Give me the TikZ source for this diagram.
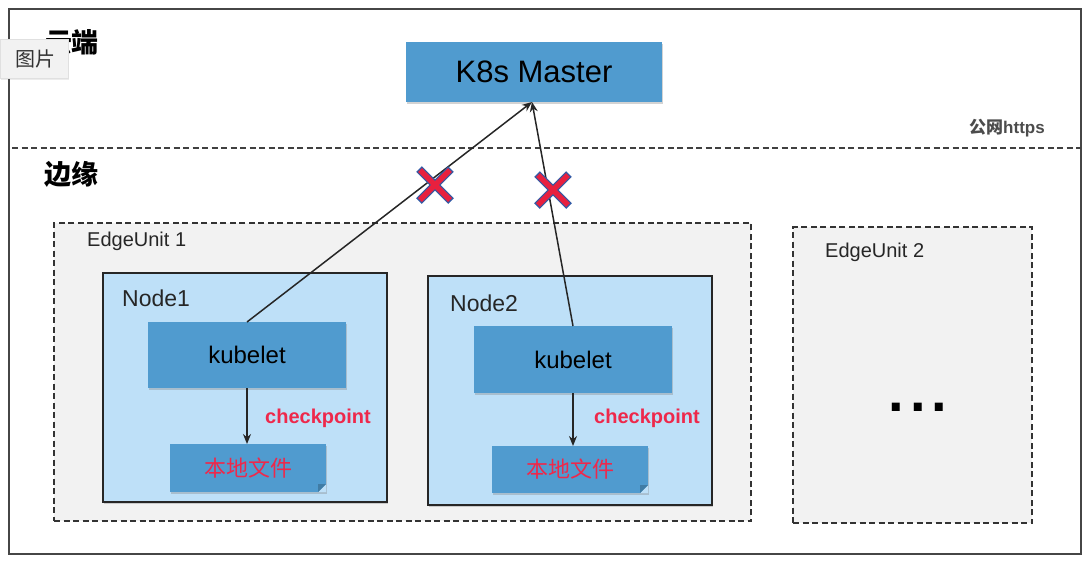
\documentclass[tikz,border=0pt]{standalone}
\usepackage{fontspec}
\setmainfont{Liberation Sans}
\newfontfamily\cjk{Noto Sans CJK SC}
\usetikzlibrary{arrows.meta,shadows}
\definecolor{kblue}{RGB}{80,155,207}
\definecolor{nodefill}{RGB}{190,224,248}
\definecolor{unitfill}{RGB}{242,242,242}
\definecolor{redtxt}{RGB}{238,40,75}
\definecolor{crossred}{RGB}{232,32,62}
\definecolor{crossblue}{RGB}{50,90,165}
\definecolor{frame}{RGB}{70,70,70}
\tikzset{
  fs/.style={font=\fontsize{#1}{#1}\selectfont},
  bluebox/.style={fill=kblue, inner sep=0pt, outer sep=0pt,
    drop shadow={shadow xshift=1pt, shadow yshift=-1.5pt, opacity=0.35}},
  nodebox/.style={fill=nodefill, draw=black!85, line width=1.3pt, inner sep=0pt, outer sep=0pt,
    drop shadow={shadow xshift=1pt, shadow yshift=-1.5pt, opacity=0.35}},
  unitbox/.style={fill=unitfill, draw=black!80, line width=1.2pt, dash pattern=on 6pt off 3.5pt, inner sep=0pt, outer sep=0pt},
  lbl/.style={anchor=west, inner sep=0pt, text=black!85},
  conn/.style={line width=1.5pt, black!85, -{Stealth[length=10pt,width=8pt]}},
  crossline/.style={line width=8pt, crossblue, line cap=butt},
  crossin/.style={line width=5.5pt, crossred, line cap=butt},
}
\begin{document}
\begin{tikzpicture}[x=1pt,y=-1pt]
\useasboundingbox (0,0) rectangle (1090,566);
% outer frame
\draw[frame, line width=1.5pt] (9,9) rectangle (1081,554);
% divider
\draw[black!75, line width=1.5pt, dash pattern=on 6pt off 3.5pt] (12,148) -- (1081,148);
\node[fs=17, text=black!70, inner sep=0pt] (net) at (1007,128) {\cjk\bfseries 公网\rmfamily https};
% zone labels
\node[fs=27, inner sep=0pt] (cloud) at (72,42) {\cjk\bfseries 云端};
\node[fs=27, inner sep=0pt] (edge) at (71,174) {\cjk\bfseries 边缘};
% tooltip overlay
\node[fill=unitfill, draw=black!12, minimum width=68pt, minimum height=39pt, inner sep=0pt, outer sep=0pt,
  drop shadow={shadow xshift=1pt, shadow yshift=-1.5pt, opacity=0.15}] (tip) at (34,58.5) {};
\node[fs=20, text=black!80, inner sep=0pt] (tiptext) at (36,59) {\cjk 图片};
% K8s master
\node[bluebox, minimum width=256pt, minimum height=60pt, fs=31] (master) at (534,72) {K8s Master};
% edge units
\node[unitbox, minimum width=697pt, minimum height=298pt] (eu1) at (402.5,372) {};
\node[lbl, fs=20] (eu1l) at (87,241) {EdgeUnit 1};
\node[unitbox, minimum width=239pt, minimum height=296pt] (eu2) at (912.5,375) {};
\node[lbl, fs=20] (eu2l) at (825,252) {EdgeUnit 2};
\node[font=\bfseries\fontsize{56}{56}\selectfont, inner sep=0pt] (dots) at (918,407) {.\hspace{6pt}.\hspace{6pt}.};
% nodes
\node[nodebox, minimum width=284pt, minimum height=229pt] (n1) at (245,387.5) {};
\node[lbl, fs=23] (n1l) at (122,298) {Node1};
\node[nodebox, minimum width=284pt, minimum height=229pt] (n2) at (570,390.5) {};
\node[lbl, fs=23] (n2l) at (450,303) {Node2};
% kubelets
\node[bluebox, minimum width=198pt, minimum height=66pt, fs=24] (k1) at (247,355) {kubelet};
\node[bluebox, minimum width=198pt, minimum height=67pt, fs=24] (k2) at (573,359.5) {kubelet};
% files
\node[bluebox, minimum width=156pt, minimum height=48pt, fs=22, text=redtxt] (f1) at (248,468) {\cjk 本地文件};
\node[bluebox, minimum width=156pt, minimum height=47pt, fs=22, text=redtxt] (f2) at (570,469.5) {\cjk 本地文件};
\fill[nodefill] (f1.south east) -- ++(-8,0) -- ++(8,-8) -- cycle;
\fill[kblue!80!black] (f1.south east) ++(-8,0) -- ++(8,-8) -- ++(-8,0) -- cycle;
\fill[nodefill] (f2.south east) -- ++(-8,0) -- ++(8,-8) -- cycle;
\fill[kblue!80!black] (f2.south east) ++(-8,0) -- ++(8,-8) -- ++(-8,0) -- cycle;
% checkpoint arrows
\draw[conn] (k1.south) -- (f1.north -| k1.south);
\draw[conn] (k2.south) -- (f2.north -| k2.south);
\node[font=\bfseries\fontsize{20}{20}\selectfont, text=redtxt, inner sep=0pt] (c1) at (318,418) {checkpoint};
\node[font=\bfseries\fontsize{20}{20}\selectfont, text=redtxt, inner sep=0pt] (c2) at (647,418) {checkpoint};
% connectors to master
\draw[conn] (k1.north) -- ([xshift=-2pt]master.south);
\draw[conn] (k2.north) -- ([xshift=-2pt]master.south);
% crosses
\coordinate (x1) at (435,185);
\coordinate (x2) at (553,190);
\foreach \c in {x1,x2}{
  \draw[crossline] ([shift={(-16,-16)}]\c) -- ([shift={(16,16)}]\c);
  \draw[crossline] ([shift={(-16,16)}]\c) -- ([shift={(16,-16)}]\c);
  \draw[crossin] ([shift={(-15,-15)}]\c) -- ([shift={(15,15)}]\c);
  \draw[crossin] ([shift={(-15,15)}]\c) -- ([shift={(15,-15)}]\c);
}
\end{tikzpicture}
\end{document}
